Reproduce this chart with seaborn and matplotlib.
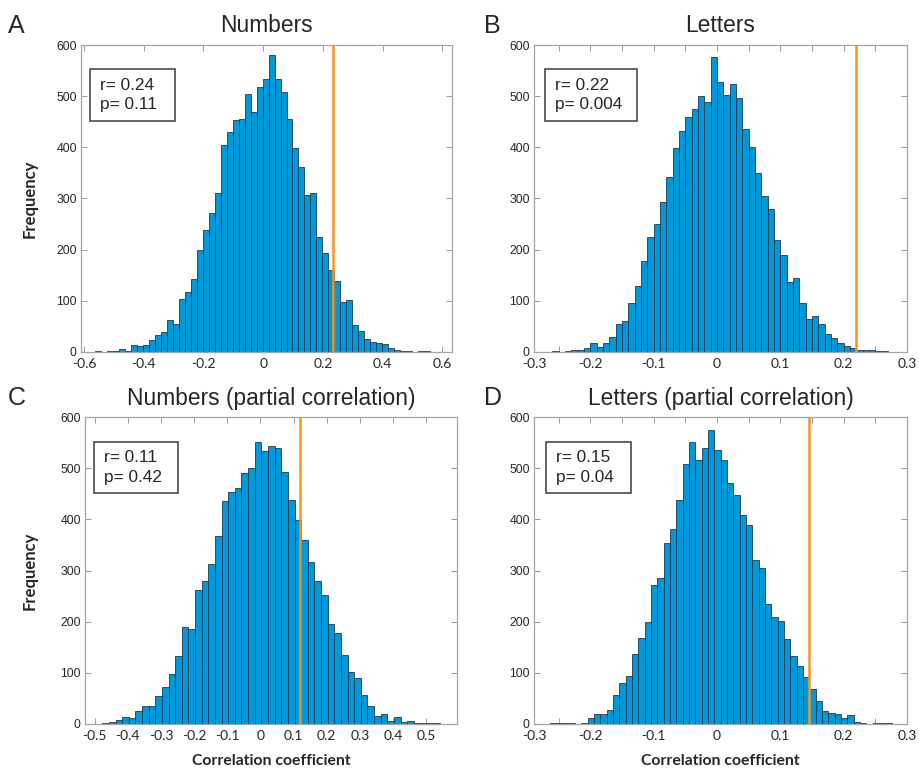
import numpy as np
import pandas as pd
import matplotlib
matplotlib.use('Agg')
import matplotlib.pyplot as plt
from matplotlib.patches import Rectangle
import seaborn as sns

sns.set_theme(style='white')
plt.rcParams['font.family'] = ['Liberation Sans', 'DejaVu Sans']

# panel texts
letters = ['A', 'B', 'C', 'D']
titles = ['Numbers', 'Letters', 'Numbers (partial correlation)', 'Letters (partial correlation)']
r_text = ['0.24', '0.22', '0.11', '0.15']
p_text = ['0.11', '0.004', '0.42', '0.04']
observed_r = [0.235, 0.22, 0.12, 0.146]   # orange line, as drawn

# histogram bins (left edge of first bin, bin width)
first_edge = [-0.562, -0.26, -0.477, -0.264]
bin_width = [0.02, 0.01, 0.02, 0.01]

# bar heights (frequency)
counts_a = [1, 0, 1, 1, 6, 2, 13, 12, 14, 23, 33, 40, 62, 55, 104, 117, 142, 199,
            238, 271, 310, 404, 429, 453, 456, 504, 469, 517, 534, 581, 534, 508,
            456, 398, 361, 307, 310, 224, 193, 161, 139, 98, 102, 53, 41, 25, 20,
            17, 16, 7, 3, 1, 1, 0, 1, 1]
counts_b = [1, 0, 1, 3, 3, 7, 17, 10, 17, 30, 54, 61, 95, 129, 178, 224, 251, 294,
            342, 398, 432, 460, 475, 501, 489, 577, 528, 502, 523, 497, 436, 400,
            349, 305, 280, 219, 189, 137, 144, 95, 64, 71, 55, 36, 27, 18, 12, 8,
            3, 3, 3, 1, 1]
counts_c = [1, 3, 7, 13, 12, 25, 35, 36, 55, 72, 97, 133, 189, 186, 262, 279, 312,
            368, 436, 454, 461, 491, 501, 551, 533, 544, 539, 492, 437, 398, 360,
            316, 279, 252, 195, 178, 135, 102, 89, 56, 35, 16, 20, 5, 14, 3, 5, 1,
            1, 1, 1]
counts_d = [1, 1, 1, 1, 0, 2, 12, 20, 20, 27, 57, 81, 94, 136, 169, 199, 271, 286,
            354, 382, 438, 508, 551, 515, 540, 574, 536, 515, 471, 448, 409, 389,
            321, 305, 235, 209, 202, 166, 133, 113, 92, 68, 45, 25, 21, 20, 12, 18,
            3, 1, 0, 1, 1, 1]
all_counts = [counts_a, counts_b, counts_c, counts_d]

# x axes
xlims = [(-0.61, 0.632), (-0.289, 0.30), (-0.529, 0.593), (-0.289, 0.30)]
tick_ab = [-0.6, -0.4, -0.2, 0, 0.2, 0.4, 0.6]
tick_labels_a = ['-0.6', '-0.4', '-0.2', '0', '0.2', '0.4', '0.6']
tick_bd = [-0.289, -0.25, -0.2, -0.15, -0.1, -0.05, 0, 0.05, 0.1, 0.15, 0.2, 0.25, 0.3]
tick_labels_bd = ['-0.3', '', '-0.2', '', '-0.1', '', '0', '', '0.1', '', '0.2', '', '0.3']
tick_c = [-0.5, -0.4, -0.3, -0.2, -0.1, 0, 0.1, 0.2, 0.3, 0.4, 0.5]
tick_labels_c = ['-0.5', '-0.4', '-0.3', '-0.2', '-0.1', '0', '0.1', '0.2', '0.3', '0.4', '0.5']
xticks = [tick_ab, tick_bd, tick_c, tick_bd]
xtick_labels = [tick_labels_a, tick_labels_bd, tick_labels_c, tick_labels_bd]
yticks = [0, 100, 200, 300, 400, 500, 600]

bar_color = '#0098d8'
line_color = '#f7941d'

W, H = 919, 768
fig = plt.figure(figsize=(W / 100, H / 100), dpi=100)

# axes boxes in pixels: left, top, right, bottom
boxes_px = [(81, 45, 452, 352), (534, 45, 907, 352),
            (85, 417, 457, 724), (534, 417, 907, 724)]
stat_boxes = [(0.024, 0.753, 0.229, 0.168), (0.0295, 0.753, 0.2455, 0.168),
              (0.024, 0.7515, 0.227, 0.1685), (0.031, 0.7515, 0.228, 0.1685)]
letter_px = [(8, 33), (484, 33), (8, 405), (484, 405)]

for i in range(4):
    l, t, r, b = boxes_px[i]
    ax = fig.add_axes([l / W, 1 - b / H, (r - l) / W, (b - t) / H])

    counts = np.array(all_counts[i], dtype=float)
    n = len(counts)
    lo = first_edge[i]
    hi = lo + bin_width[i] * n
    df = pd.DataFrame({'r': lo + bin_width[i] * (np.arange(n) + 0.5), 'n': counts})
    sns.histplot(data=df, x='r', weights='n', binwidth=bin_width[i], binrange=(lo, hi),
                 ax=ax, color=bar_color, alpha=1, edgecolor='#173c55', linewidth=0.6)
    ax.axvline(observed_r[i], color=line_color, lw=1.8, zorder=5)

    ax.set_xlim(*xlims[i])
    ax.set_ylim(0, 600)
    ax.set_xticks(xticks[i])
    ax.set_xticklabels(xtick_labels[i], fontsize=10, family='Lato')
    ax.set_yticks(yticks)
    ax.set_yticklabels([str(v) for v in yticks], fontsize=8.8)
    ax.tick_params(direction='in', length=4, width=0.6, color='#8a8a8a',
                   top=True, right=True, bottom=True, left=True, pad=3)
    ax.tick_params(axis='x', pad=4.5)
    for s in ax.spines.values():
        s.set_color('#a5a5a5')
        s.set_linewidth(0.9)

    ax.set_title(titles[i], fontsize=16.4, pad=9)
    ax.set_ylabel('')
    ax.set_xlabel('')
    if i in (0, 2):
        ax.set_ylabel('Frequency', family='Lato', fontweight='bold', fontsize=12)
        ax.yaxis.set_label_coords(-0.118 if i == 0 else -0.128, 0.5)
    if i in (2, 3):
        ax.set_xlabel('Correlation coefficient', family='Lato', fontweight='bold', fontsize=11.3)
        ax.xaxis.set_label_coords(0.5, -0.097)

    bx, by, bw, bh = stat_boxes[i]
    ax.add_patch(Rectangle((bx, by), bw, bh, transform=ax.transAxes, facecolor='white',
                           edgecolor='#3a3a3a', lw=1.1, zorder=6))
    ax.text(bx + 0.027, by + bh / 2, 'r= ' + r_text[i] + '\np= ' + p_text[i],
            transform=ax.transAxes, fontsize=12.4, va='center', ha='left',
            linespacing=1.4, zorder=7)

    lx, ly = letter_px[i]
    fig.text(lx / W, 1 - ly / H, letters[i], fontsize=18, ha='left', va='baseline')

fig.savefig('out.png', dpi=100)
